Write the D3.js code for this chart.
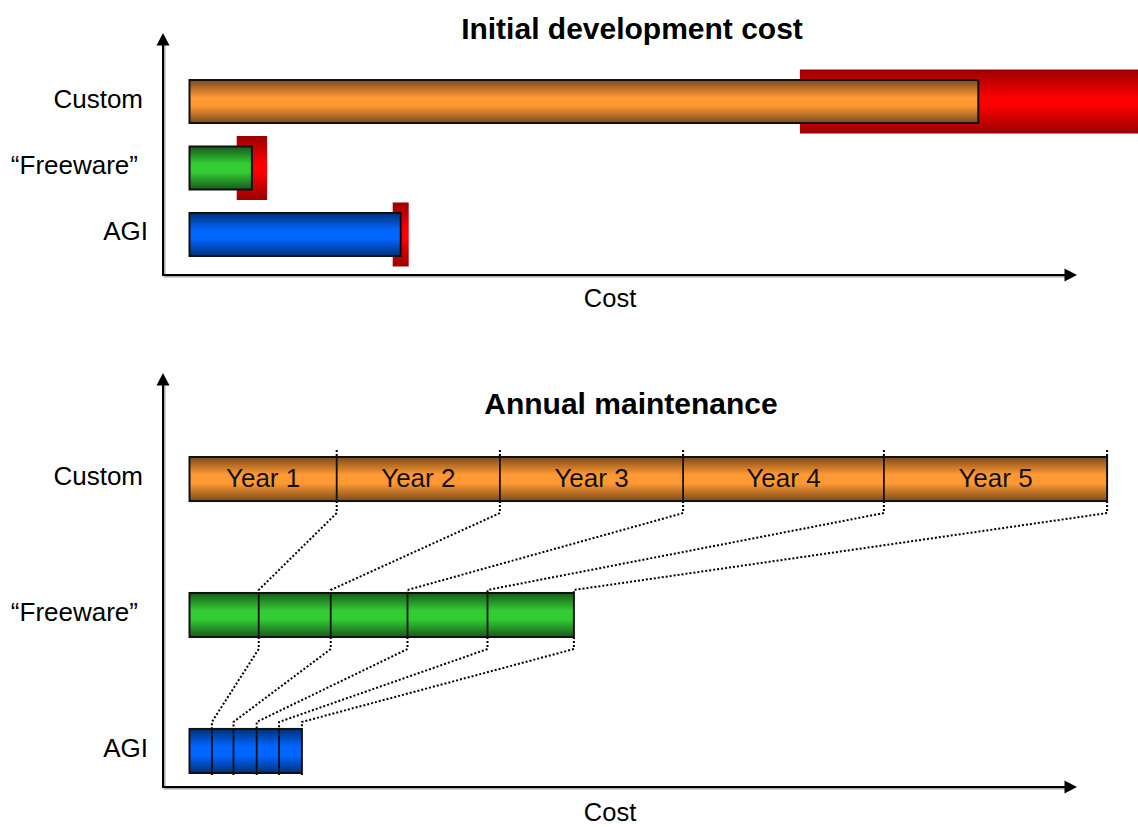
<!DOCTYPE html>
<html>
<head>
<meta charset="utf-8">
<script src="https://cdn.jsdelivr.net/npm/d3@7"></script>
<style>
  body { margin: 0; background: #fff; }
  svg { display: block; font-family: "Liberation Sans", Arial, Helvetica, sans-serif; }
</style>
</head>
<body>
<svg id="chart" width="1138" height="827"></svg>
<script>
// ---- data ----
const categories = ["Custom", "\u201CFreeware\u201D", "AGI"];
const devCost = [98.6, 7.8, 26.4];        // initial development cost
const devSpread = [22.3, 1.9, 1.0];       // +/- uncertainty on development cost
const years = ["Year 1", "Year 2", "Year 3", "Year 4", "Year 5"];
const maintCustom = [18.4, 20.4, 22.9, 25.1, 27.9];
const maintFreeware = [8.65, 9.0, 9.6, 10.0, 10.8];
const maintAGI = [2.8, 2.7, 2.9, 2.8, 2.85];
const panelTitles = ["Initial development cost", "Annual maintenance"];
const axisTitle = "Cost";

const maintenance = [maintCustom, maintFreeware, maintAGI];

// ---- styling ----
const palette = {
  "Custom": ["#7a4a1c", "#ff9933"],
  "\u201CFreeware\u201D": ["#17591a", "#33cc33"],
  "AGI": ["#00307a", "#0066ff"]
};
const rangeColors = ["#990000", "#ff0000"];
const labelRight = [143, 138, 148];       // right edge of each category label

const svg = d3.select("#chart");
const defs = svg.append("defs");

function addGradient(id, dark, bright, mid) {
  const g = defs.append("linearGradient")
    .attr("id", id).attr("x1", 0).attr("y1", 0).attr("x2", 0).attr("y2", 1);
  g.append("stop").attr("offset", "0%").attr("stop-color", dark);
  g.append("stop").attr("offset", (50 - mid) + "%").attr("stop-color", bright);
  g.append("stop").attr("offset", (50 + mid) + "%").attr("stop-color", bright);
  g.append("stop").attr("offset", "100%").attr("stop-color", dark);
}
categories.forEach((c, i) => addGradient("grad" + i, palette[c][0], palette[c][1], 10));
addGradient("gradRange", rangeColors[0], rangeColors[1], 6);

// shared cost scale
const x = d3.scaleLinear().domain([0, 111]).range([189.5, 1077.5]);
const axisX0 = 163;
const axisX1 = 1077;

function drawAxes(yTop, yBottom) {
  const g = svg.append("g");
  // soft shadow under the axis lines
  g.append("path")
    .attr("d", `M${axisX0 + 1.5},${yTop + 12} V${yBottom + 1.5} H${axisX1 - 12}`)
    .attr("fill", "none").attr("stroke", "#aaa").attr("stroke-width", 2);
  g.append("path")
    .attr("d", `M${axisX0},${yTop + 10} V${yBottom} H${axisX1 - 10}`)
    .attr("fill", "none").attr("stroke", "#000").attr("stroke-width", 2);
  // arrowheads
  g.append("path")
    .attr("d", `M${axisX0},${yTop} L${axisX0 - 6.5},${yTop + 12.5} L${axisX0 + 6.5},${yTop + 12.5} Z`)
    .attr("fill", "#000");
  g.append("path")
    .attr("d", `M${axisX1},${yBottom} L${axisX1 - 12.5},${yBottom - 6.5} L${axisX1 - 12.5},${yBottom + 6.5} Z`)
    .attr("fill", "#000");
}

function drawCategoryLabels(y) {
  svg.append("g").selectAll("text").data(categories).join("text")
    .attr("x", (d, i) => labelRight[i])
    .attr("y", d => y(d) + y.bandwidth() / 2 + 6)
    .attr("text-anchor", "end")
    .attr("font-size", 26)
    .attr("fill", "#000")
    .text(d => d);
}

// ---- panel 1: initial development cost ----
const y1 = d3.scaleBand().domain(categories).range([80, 256]).paddingInner(0.353);
drawAxes(33, 275);

svg.append("text")
  .attr("x", 632).attr("y", 39)
  .attr("text-anchor", "middle").attr("font-size", 30).attr("font-weight", "bold")
  .text(panelTitles[0]);

svg.append("text")
  .attr("x", 610).attr("y", 307)
  .attr("text-anchor", "middle").attr("font-size", 25.5)
  .text(axisTitle);

drawCategoryLabels(y1);

const rangeExtra = 10.5;
svg.append("g").selectAll("rect").data(categories).join("rect")
  .attr("x", (d, i) => x(devCost[i] - devSpread[i]))
  .attr("width", (d, i) => x(devCost[i] + devSpread[i]) - x(devCost[i] - devSpread[i]))
  .attr("y", d => y1(d) - rangeExtra)
  .attr("height", y1.bandwidth() + 2 * rangeExtra)
  .attr("fill", "url(#gradRange)");

svg.append("g").selectAll("rect").data(categories).join("rect")
  .attr("x", x(0))
  .attr("width", (d, i) => x(devCost[i]) - x(0))
  .attr("y", d => y1(d))
  .attr("height", y1.bandwidth())
  .attr("fill", (d, i) => `url(#grad${i})`)
  .attr("stroke", "#111").attr("stroke-width", 2);

// ---- panel 2: annual maintenance ----
const y2 = d3.scaleBand().domain(categories).range([457, 773]).paddingInner(0.676);
drawAxes(373, 787);

svg.append("text")
  .attr("x", 631).attr("y", 414)
  .attr("text-anchor", "middle").attr("font-size", 30).attr("font-weight", "bold")
  .text(panelTitles[1]);

svg.append("text")
  .attr("x", 610).attr("y", 821)
  .attr("text-anchor", "middle").attr("font-size", 25.5)
  .text(axisTitle);

drawCategoryLabels(y2);

// cumulative year boundaries per category
const cumulative = maintenance.map(vals => {
  let s = 0;
  return vals.map(v => (s += v));
});

// dotted connectors linking the same year across categories
const connectors = svg.append("g")
  .attr("fill", "none").attr("stroke", "#000")
  .attr("stroke-width", 2).attr("stroke-dasharray", "2,2");

const rise = [3, 7];
for (let c = 0; c < categories.length - 1; c++) {
  const upBottom = y2(categories[c]) + y2.bandwidth();
  const lowTop = y2(categories[c + 1]);
  cumulative[c].forEach((v, j) => {
    const xu = x(v), xl = x(cumulative[c + 1][j]);
    connectors.append("path")
      .attr("d", `M${xu},${upBottom} V${upBottom + 12} L${xl},${lowTop - rise[c]} V${lowTop}`);
  });
}
// short dotted ticks above the first bar and below the last
cumulative[0].forEach(v => {
  const t = y2(categories[0]);
  connectors.append("path").attr("d", `M${x(v)},${t - 7} V${t}`);
});
cumulative[2].forEach(v => {
  const b = y2(categories[2]) + y2.bandwidth();
  connectors.append("path").attr("d", `M${x(v)},${b} V${b + 3}`);
});

// stacked yearly bars
categories.forEach((cat, i) => {
  const g = svg.append("g");
  const top = y2(cat), h = y2.bandwidth();
  const total = cumulative[i][cumulative[i].length - 1];
  g.append("rect")
    .attr("x", x(0)).attr("y", top)
    .attr("width", x(total) - x(0)).attr("height", h)
    .attr("fill", `url(#grad${i})`)
    .attr("stroke", "#111").attr("stroke-width", 2);
  g.selectAll("line").data(cumulative[i].slice(0, -1)).join("line")
    .attr("x1", d => x(d)).attr("x2", d => x(d))
    .attr("y1", top).attr("y2", top + h)
    .attr("stroke", "#111").attr("stroke-width", 1.8);
  if (i === 0) {
    g.selectAll("text").data(years).join("text")
      .attr("x", (d, j) => (x(cumulative[i][j] - maintenance[i][j]) + x(cumulative[i][j])) / 2)
      .attr("y", top + h / 2 + 7.5)
      .attr("text-anchor", "middle")
      .attr("font-size", 26)
      .attr("fill", "#111")
      .text(d => d);
  }
});
</script>
</body>
</html>
